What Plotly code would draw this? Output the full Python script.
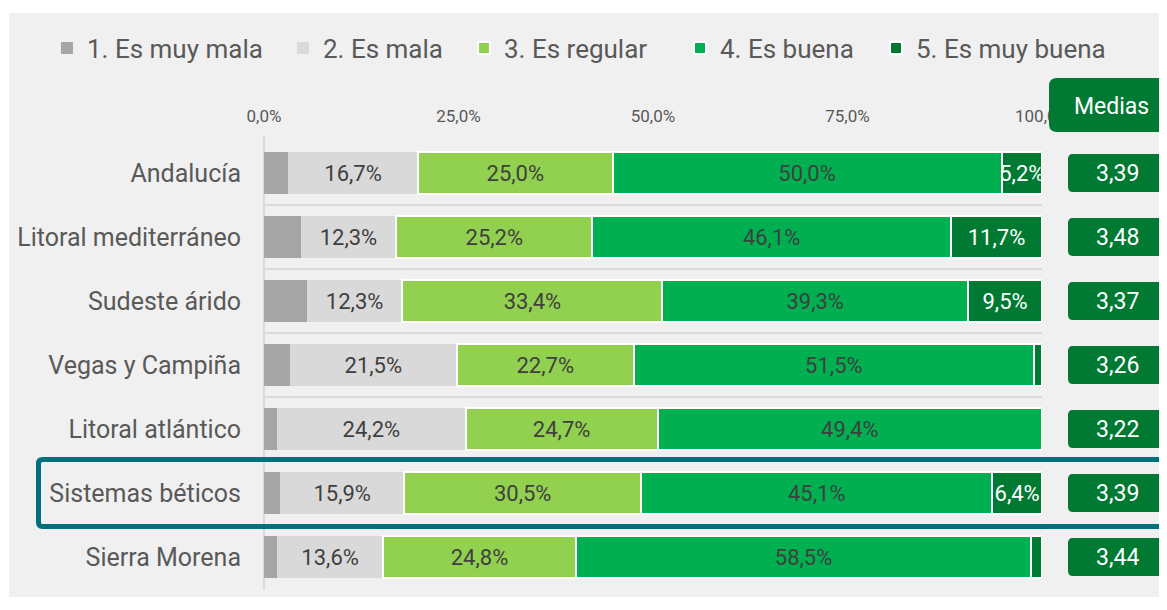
import plotly.graph_objects as go

regions = ["Andalucía", "Litoral mediterráneo", "Sudeste árido", "Vegas y Campiña",
           "Litoral atlántico", "Sistemas béticos", "Sierra Morena"]
muy_mala = [3.1, 4.7, 5.5, 3.3, 1.7, 2.1, 1.7]
mala = [16.7, 12.3, 12.3, 21.5, 24.2, 15.9, 13.6]
regular = [25.0, 25.2, 33.4, 22.7, 24.7, 30.5, 24.8]
buena = [50.0, 46.1, 39.3, 51.5, 49.4, 45.1, 58.5]
muy_buena = [5.2, 11.7, 9.5, 1.0, 0.0, 6.4, 1.4]
medias = ["3,39", "3,48", "3,37", "3,26", "3,22", "3,39", "3,44"]
series_names = ["1. Es muy mala", "2. Es mala", "3. Es regular", "4. Es buena", "5. Es muy buena"]
x_ticks = [0, 25, 50, 75, 100]
x_ticktext = ["0,0%", "25,0%", "50,0%", "75,0%", "100,0%"]

FONT = "Roboto"
OFF = 8                      # page body margin
W, H = 1167 - OFF, 589
# plot area in page pixels
PL, PR, PT, PB = 264, 1042, 141, 589
LEGEND_X = [47, 283, 464, 680, 876]   # legend entry left edges (page px)


def px(x):
    return (x - PL) / (PR - PL)


def py(y):
    return (PB - y) / (PB - PT)


def fmt(v):
    return f"{v:.1f}".replace(".", ",") + "%"


colors = ["#a6a6a6", "#d9d9d9", "#92d050", "#00b050", "#007a33"]
txtcol = ["#3f3f3f", "#3f3f3f", "#3f3f3f", "#3f3f3f", "#ffffff"]
outline = [0, 0, 2, 2, 2]
series = [muy_mala, mala, regular, buena, muy_buena]
ypos = list(range(len(regions)))

fig = go.Figure()
legend_layout = {}
for k, (name, vals) in enumerate(zip(series_names, series)):
    lg = "legend" if k == 0 else f"legend{k + 1}"
    texts = ["" if (k == 0 or v < 2) else fmt(v) for v in vals]
    fig.add_trace(go.Bar(
        y=ypos, x=vals, name=name, orientation="h", legend=lg,
        marker=dict(color=colors[k], line=dict(color="white", width=outline[k])),
        text=texts, textposition="inside", insidetextanchor="middle",
        textangle=0, textfont=dict(family=FONT, size=22, color=txtcol[k]),
        width=0.66, hoverinfo="skip",
    ))
    legend_layout[lg] = dict(orientation="h", x=px(LEGEND_X[k]), xanchor="left",
                             y=py(48), yanchor="middle",
                             font=dict(family=FONT, size=26, color="#595959"),
                             bgcolor="rgba(0,0,0,0)", itemclick=False)

shapes = []
shapes.append(dict(type="rect", xref="paper", yref="paper", x0=px(9), x1=px(1200),
                   y0=py(597), y1=py(13), fillcolor="#f0f0f0", line=dict(width=0), layer="below"))
shapes.append(dict(type="line", xref="paper", yref="paper", x0=0, x1=0, y0=py(590), y1=py(135),
                   line=dict(color="#d9d9d9", width=2), layer="below"))


def rrect_paper(x0, y0, x1, y1, r):
    rx = r / (PR - PL)
    ry = r / (PB - PT)
    X0, X1 = px(x0), px(x1)
    Y0, Y1 = py(y1), py(y0)
    return (f"M{X0+rx},{Y1} L{X1-rx},{Y1} Q{X1},{Y1} {X1},{Y1-ry} "
            f"L{X1},{Y0+ry} Q{X1},{Y0} {X1-rx},{Y0} L{X0+rx},{Y0} "
            f"Q{X0},{Y0} {X0},{Y0+ry} L{X0},{Y1-ry} Q{X0},{Y1} {X0+rx},{Y1} Z")


shapes.append(dict(type="path", xref="paper", yref="paper",
                   path=rrect_paper(38.5, 459.5, 1190, 526.5, 4),
                   line=dict(color="#00707a", width=5), fillcolor="rgba(0,0,0,0)", layer="above"))
shapes.append(dict(type="path", xref="paper", yref="paper",
                   path=rrect_paper(1049, 78, 1200, 132, 8),
                   fillcolor="#007a33", line=dict(width=0), layer="above"))

annotations = [dict(xref="paper", yref="paper", x=px(1111), y=py(106), text="Medias",
                    xanchor="center", yanchor="middle", showarrow=False,
                    font=dict(family=FONT, size=23, color="white"))]

for i, m in enumerate(medias):
    rowc = PT + (i + 0.5) * (PB - PT) / len(regions)
    shapes.append(dict(type="path", xref="paper", yref="paper",
                       path=rrect_paper(1068, rowc - 19, 1166, rowc + 19, 5),
                       fillcolor="#007a33", line=dict(width=0), layer="above"))
    annotations.append(dict(xref="paper", yref="y", x=px(1117), y=i, text=m, showarrow=False,
                            xanchor="center", yanchor="middle",
                            font=dict(family=FONT, size=23, color="white")))

fig.update_layout(
    width=W, height=H,
    margin=dict(l=PL - OFF, r=W - (PR - OFF), t=PT - OFF, b=H - (PB - OFF), pad=0),
    paper_bgcolor="white", plot_bgcolor="rgba(0,0,0,0)",
    barmode="stack",
    font=dict(family=FONT, color="#595959"),
    showlegend=True,
    uniformtext=dict(minsize=22, mode="show"),
    shapes=shapes, annotations=annotations,
    **legend_layout,
)
fig.update_xaxes(range=[0, 100], side="top", tickvals=x_ticks, ticktext=x_ticktext,
                 showgrid=False, zeroline=False, showline=False, ticks="",
                 tickfont=dict(family=FONT, size=17, color="#595959"), ticklabelstandoff=15,
                 fixedrange=True)
fig.update_yaxes(range=[len(regions) - 0.5, -0.5], tickvals=ypos, ticktext=regions,
                 showgrid=False, zeroline=False, showline=False, ticks="",
                 tickfont=dict(family=FONT, size=25, color="#595959"), ticklabelstandoff=22,
                 minor=dict(tickvals=[i - 0.5 for i in range(len(regions) + 1)], showgrid=True,
                            gridcolor="#d9d9d9", gridwidth=2, ticks=""),
                 fixedrange=True)

fig.write_html("out.html")
